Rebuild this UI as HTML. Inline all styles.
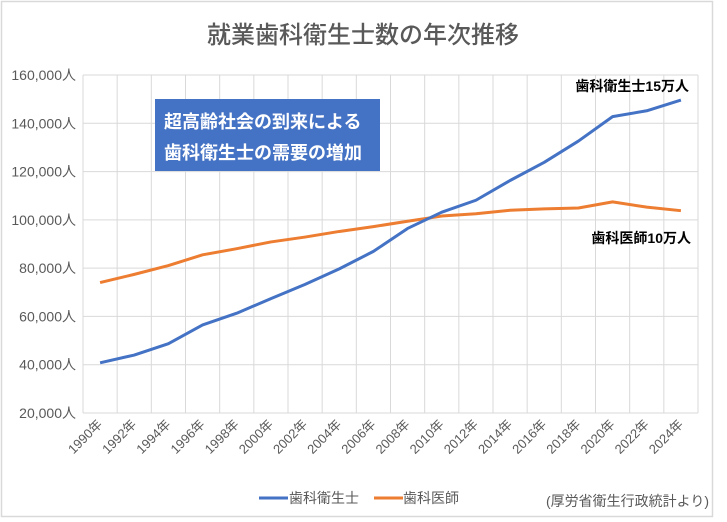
<!DOCTYPE html>
<html><head><meta charset="utf-8"><style>
body{margin:0;background:#fff;}
svg{display:block;font-family:"Liberation Sans","Noto Sans CJK JP",sans-serif;}
</style></head><body>
<svg width="727" height="522" viewBox="0 0 727 522" xmlns="http://www.w3.org/2000/svg">
<rect x="1.5" y="1.5" width="711" height="515" fill="#fff" stroke="#d9d9d9" stroke-width="1.5"/>
<text x="363" y="43" text-anchor="middle" font-size="24" fill="#595959" font-weight="500" style="font-family:'Noto Sans CJK JP',sans-serif">就業歯科衛生士数の年次推移</text>
<g id="grid" stroke="#d9d9d9" stroke-width="1"></g>
<g id="ylab" font-size="14" fill="#595959" text-anchor="end"></g>
<g id="xlab" font-size="13" fill="#595959" text-anchor="end"></g>
<rect x="155" y="99" width="225" height="72" fill="#4472C4"/>
<text x="164" y="128" font-size="18" fill="#fff" font-weight="bold">超高齢社会の到来による</text>
<text x="164" y="159" font-size="18" fill="#fff" font-weight="bold">歯科衛生士の需要の増加</text>
<polyline id="or" fill="none" stroke="#ED7D31" stroke-width="3" stroke-linejoin="round"/>
<polyline id="bl" fill="none" stroke="#4472C4" stroke-width="3" stroke-linejoin="round"/>
<text x="689" y="91" text-anchor="end" font-size="14" fill="#000" font-weight="bold">歯科衛生士15万人</text>
<text x="691" y="243" text-anchor="end" font-size="14" fill="#000" font-weight="bold">歯科医師10万人</text>
<line x1="259" y1="498" x2="288" y2="498" stroke="#4472C4" stroke-width="3"/>
<text x="289" y="503" font-size="14" fill="#595959">歯科衛生士</text>
<line x1="374" y1="498" x2="403" y2="498" stroke="#ED7D31" stroke-width="3"/>
<text x="403" y="503" font-size="14" fill="#595959">歯科医師</text>
<text x="709" y="506" text-anchor="end" font-size="14" fill="#595959">(厚労省衛生行政統計より)</text>
</svg>
<script>
const L=83,R=698,T=75,B=413,n=18,w=(R-L)/n;
const y=v=>B-(v-20000)/140000*(B-T);
let g='';for(let i=0;i<=n;i++){const x=L+i*w;g+=`<line x1="${x}" y1="${T}" x2="${x}" y2="${B}"/>`;}
let yl='';for(let v=20000;v<=160000;v+=20000){g+=`<line x1="${L}" y1="${y(v)}" x2="${R}" y2="${y(v)}"/>`;yl+=`<text x="76" y="${y(v)+5}">${v.toLocaleString('en-US')}人</text>`;}
document.getElementById('grid').innerHTML=g;document.getElementById('ylab').innerHTML=yl;
let xl='';for(let i=0;i<n;i++){const cx=L+(i+0.5)*w+3,cy=425;xl+=`<text transform="translate(${cx},${cy}) rotate(-45)">${1990+2*i}年</text>`;}
document.getElementById('xlab').innerHTML=xl;
const bl=[40789,44012,48727,56466,61331,67376,73297,79695,86939,96442,103180,108123,116299,123831,132629,142760,145183,149600];
const or=[74028,77416,81055,85518,88061,90857,92874,95197,97198,99426,101576,102551,103972,104533,104908,107443,105267,103800];
const pts=a=>a.map((v,i)=>`${L+(i+0.5)*w},${y(v)}`).join(' ');
document.getElementById('bl').setAttribute('points',pts(bl));
document.getElementById('or').setAttribute('points',pts(or));
</script>
</body></html>
